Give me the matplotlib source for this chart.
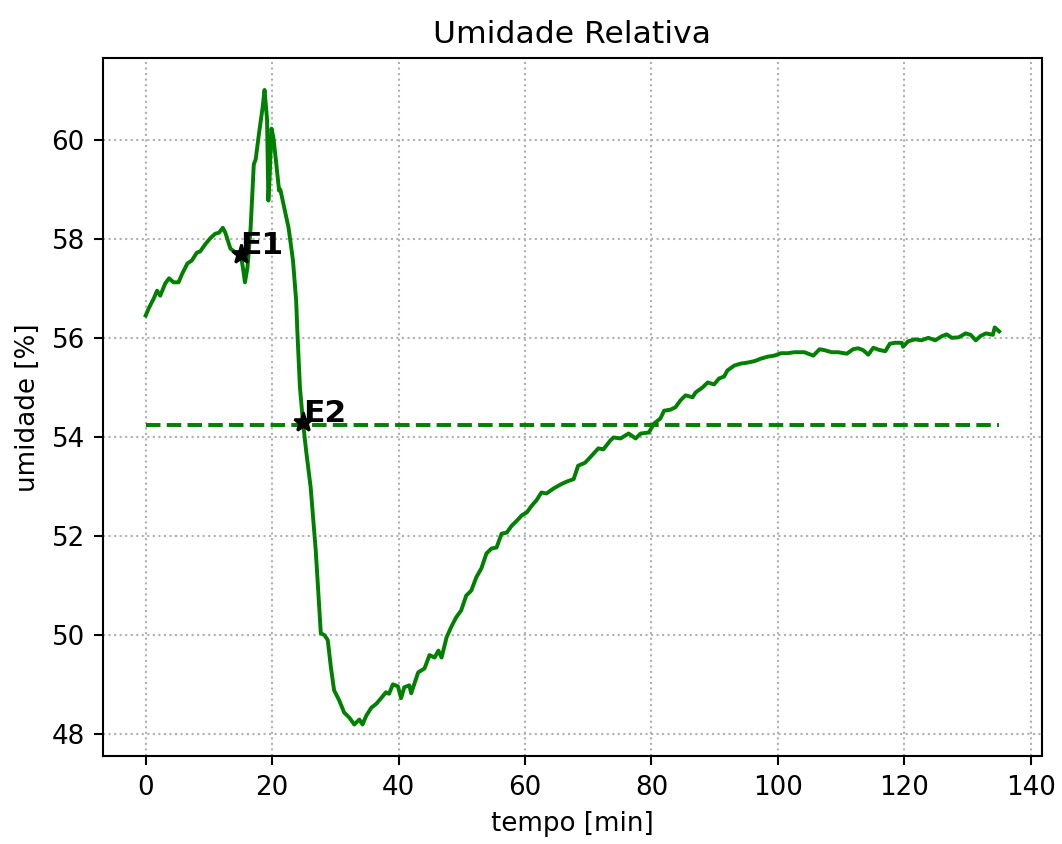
import numpy as np
import matplotlib
matplotlib.use("Agg")
import matplotlib.pyplot as plt

# leitura do sensor de umidade (tempo em min, umidade em %)
tempo = [
    0.0, 0.5, 1.3, 1.8, 2.3, 3.1, 3.7, 4.4, 5.2, 5.8, 6.6, 7.3, 8.1, 8.6, 9.5,
    10.3, 11.0, 11.6, 12.2, 12.6, 13.4, 14.2, 15.0, 15.4, 15.7, 16.1, 16.6,
    17.1, 17.4, 17.9, 18.5, 18.8, 19.2, 19.4, 19.6, 19.9, 20.2, 20.6, 21.1,
    21.3, 21.9, 22.6, 23.3, 23.8, 24.0, 24.4, 24.9, 25.4, 26.1, 26.9, 27.7,
    28.3, 28.8, 29.3, 29.8, 30.6, 31.4, 32.2, 33.0, 33.8, 34.3, 34.9, 35.7,
    36.5, 37.3, 38.0, 38.5, 39.1, 39.9, 40.4, 40.9, 41.7, 42.0, 43.1, 44.1,
    44.9, 45.7, 46.3, 46.8, 47.6, 48.3, 49.1, 49.9, 50.7, 51.5, 52.3, 53.1,
    53.9, 54.7, 55.5, 56.3, 57.1, 57.9, 58.7, 59.5, 60.3, 61.1, 61.8, 62.6,
    63.4, 64.5, 65.6, 66.6, 67.7, 68.4, 69.5, 70.6, 71.6, 72.4, 73.5, 74.0,
    75.1, 76.4, 77.5, 78.3, 79.6, 80.4, 81.4, 82.0, 83.0, 83.8, 84.6, 85.4,
    86.5, 87.0, 88.1, 88.9, 89.9, 90.7, 91.5, 92.0, 93.1, 94.1, 95.2, 96.3,
    97.3, 98.4, 99.4, 100.5, 101.6, 102.6, 104.2, 105.6, 106.6, 107.4, 108.5,
    109.5, 110.9, 111.9, 112.7, 113.5, 114.3, 115.1, 115.9, 117.0, 117.7,
    118.5, 119.6, 119.8, 120.6, 121.7, 122.7, 123.8, 124.9, 125.9, 126.7,
    127.5, 128.6, 129.7, 130.5, 131.3, 132.1, 132.9, 134.0, 134.3, 135.0,
]
umidade = [
    56.45, 56.6, 56.8, 56.95, 56.85, 57.1, 57.2, 57.12, 57.12, 57.3, 57.5,
    57.56, 57.72, 57.74, 57.9, 58.02, 58.1, 58.12, 58.22, 58.12, 57.8, 57.72,
    57.7, 57.4, 57.12, 57.42, 58.22, 59.5, 59.6, 60.1, 60.65, 61.0, 60.4,
    58.77, 59.23, 60.22, 60.04, 59.58, 58.97, 58.99, 58.63, 58.22, 57.56,
    56.75, 56.1, 55.0, 54.27, 53.7, 52.98, 51.71, 50.04, 50.0, 49.9, 49.35,
    48.89, 48.69, 48.44, 48.34, 48.2, 48.3, 48.2, 48.38, 48.54, 48.62,
    48.74, 48.85, 48.82, 49.01, 48.97, 48.73, 48.95, 48.99, 48.83, 49.25,
    49.33, 49.6, 49.55, 49.69, 49.55, 49.96, 50.16, 50.36, 50.5, 50.8, 50.9,
    51.17, 51.35, 51.65, 51.75, 51.77, 52.05, 52.07, 52.21, 52.31, 52.42,
    52.48, 52.62, 52.72, 52.88, 52.86, 52.96, 53.04, 53.1, 53.15, 53.42,
    53.48, 53.63, 53.77, 53.75, 53.93, 53.99, 53.97, 54.07, 53.97, 54.07,
    54.09, 54.27, 54.37, 54.53, 54.55, 54.6, 54.74, 54.84, 54.8, 54.9, 55.0,
    55.1, 55.06, 55.18, 55.22, 55.34, 55.44, 55.48, 55.5, 55.53, 55.58,
    55.62, 55.64, 55.69, 55.69, 55.71, 55.71, 55.64, 55.77, 55.75, 55.71,
    55.71, 55.68, 55.77, 55.79, 55.75, 55.66, 55.8, 55.76, 55.73, 55.88,
    55.9, 55.9, 55.82, 55.93, 55.97, 55.95, 56.0, 55.95, 56.03, 56.07, 56.0,
    56.01, 56.09, 56.06, 55.95, 56.04, 56.09, 56.06, 56.21, 56.13,
]

# nivel de referencia (tracejado) e eventos marcados
nivel_ref = 54.25
eventos = ["E1", "E2"]
eventos_t = [15.0, 24.9]
eventos_u = [57.7, 54.3]

dpi = 188
fig = plt.figure(figsize=(1062 / dpi, 844 / dpi), dpi=dpi)
ax = fig.add_axes([0.097, 0.104, 0.884, 0.827])

ax.plot(tempo, umidade, color="green", linewidth=1.5)
ax.plot([tempo[0], tempo[-1]], [nivel_ref, nivel_ref], "--", color="green", linewidth=1.5)

for nome, t, u in zip(eventos, eventos_t, eventos_u):
    ax.plot(t, u, "*", color="black", markersize=7.5)
    ax.text(t, u, nome, fontsize=12, fontweight="bold")

ax.set_title("Umidade Relativa")
ax.set_xlabel("tempo [min]")
ax.set_ylabel("umidade [%]")
ax.grid(True, linestyle=":")

fig.savefig("out.png", dpi=dpi)
